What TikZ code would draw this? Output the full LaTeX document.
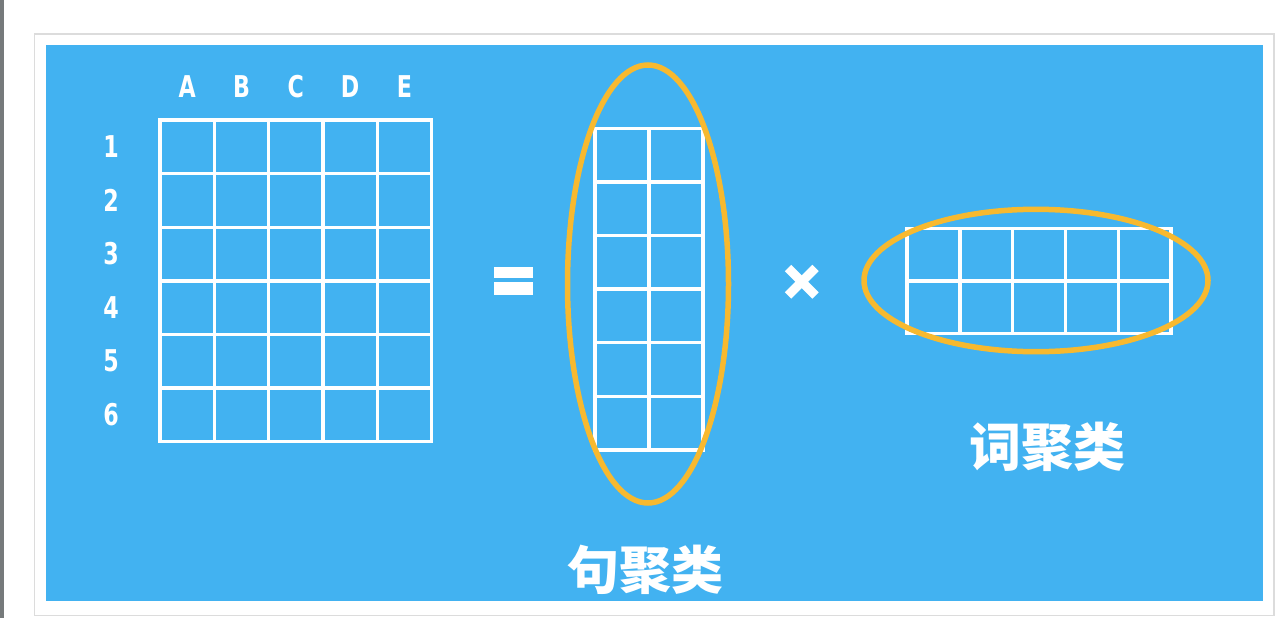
\documentclass[tikz,border=0pt]{standalone}
\usepackage{fontspec}
\newfontfamily\lblfont[FakeStretch=0.74]{DejaVu Sans}
\newfontfamily\cjkfont{Noto Sans CJK SC}
\definecolor{bgblue}{HTML}{42B2F1}
\definecolor{ringorange}{HTML}{F7B92F}
\definecolor{framegrey}{HTML}{DCDCDC}
\definecolor{stripgrey}{HTML}{767A7B}
\tikzset{
  gridline/.style={draw=white, line width=3.4pt, line cap=rect},
  ring/.style={draw=ringorange, line width=5.5pt},
  headlabel/.style={text=white, inner sep=0pt, font=\lblfont\bfseries\fontsize{30}{30}\selectfont},
  cjklabel/.style={text=white, inner sep=0pt, font=\cjkfont\bfseries\fontsize{52}{52}\selectfont},
  opsign/.style={fill=white, draw=none}
}
\begin{document}
\begin{tikzpicture}[x=1pt,y=-1pt]
\useasboundingbox (0,0) rectangle (1282,618);
\fill[white] (0,0) rectangle (1282,618);
% page decorations
\fill[stripgrey] (0,0) rectangle (3.7,618);
\draw[framegrey, line width=1.6pt] (34.5,33.8) rectangle (1274,615.5);
\fill[bgblue] (46,45) rectangle (1262.7,600.7);

% left grid 5x6
\foreach \i in {0,...,5} \draw[gridline] ({160+54.34*\i},120) -- ({160+54.34*\i},441.7);
\foreach \j in {0,...,6} \draw[gridline] (160,{120+53.6*\j}) -- (431.7,{120+53.6*\j});
\foreach \c [count=\k] in {A,B,C,D,E}
  \node[headlabel] (col\c) at ({160+54.34*(\k-0.5)},86.7) {\c};
\foreach \r in {1,...,6}
  \node[headlabel] (row\r) at (111,{120+53.6*(\r-0.5)}) {\r};

% equals sign
\fill[opsign] (494,266.7) rectangle (533.3,278.3);
\fill[opsign] (494,282.3) rectangle (533.3,295);

% middle grid 2x6
\foreach \i in {0,1,2} \draw[gridline] ({595+54*\i},128.3) -- ({595+54*\i},450);
\foreach \j in {0,...,6} \draw[gridline] (595,{128.3+53.62*\j}) -- (703,{128.3+53.62*\j});
\draw[ring] (648,284) ellipse [x radius=80.5, y radius=219];
\node[cjklabel] (sent) at (645.8,570) {句聚类};

% times sign
\draw[white, line width=9pt] (788,268) -- (815.5,295.5);
\draw[white, line width=9pt] (815.5,268) -- (788,295.5);

% right grid 5x2
\foreach \i in {0,...,5} \draw[gridline] ({907+52.8*\i},228.3) -- ({907+52.8*\i},333.3);
\foreach \j in {0,1,2} \draw[gridline] (907,{228.3+52.5*\j}) -- (1171,{228.3+52.5*\j});
\draw[ring] (1036,280.5) ellipse [x radius=172, y radius=71.2];
\node[cjklabel] (word) at (1047.5,446.7) {词聚类};
\end{tikzpicture}
\end{document}
